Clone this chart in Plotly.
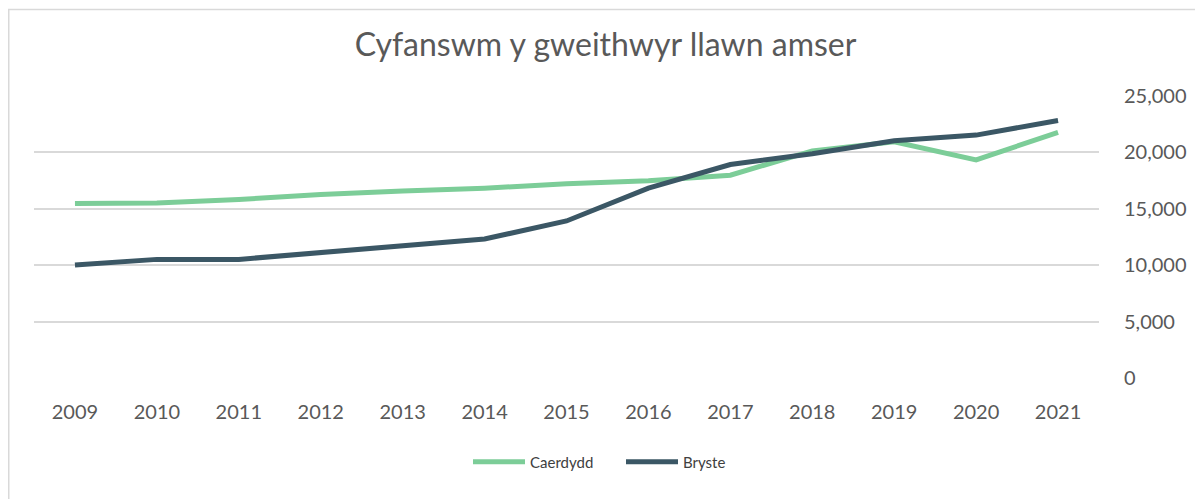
import plotly.graph_objects as go

years = ["2009", "2010", "2011", "2012", "2013", "2014", "2015",
         "2016", "2017", "2018", "2019", "2020", "2021"]
caerdydd = [15450, 15500, 15800, 16250, 16550, 16800, 17200,
            17450, 17950, 20100, 20900, 19300, 21750]
bryste = [10000, 10500, 10500, 11100, 11600, 12300, 13900,
          16800, 18900, 19850, 21000, 21500, 22800]
y_ticks = [0, 5000, 10000, 15000, 20000, 25000]

GREEN = "#7ccd98"
DARK = "#3b5765"
GREY_TXT = "#595959"

# page body adds an 8px offset, so the figure is sized a bit smaller
W, H = 1195, 491

fig = go.Figure()
fig.add_trace(go.Scatter(x=years, y=caerdydd, name="Caerdydd", mode="lines",
                         line=dict(color=GREEN, width=5), line_shape="linear"))
fig.add_trace(go.Scatter(x=years, y=bryste, name="Bryste", mode="lines",
                         line=dict(color=DARK, width=5), line_shape="linear"))

fig.update_layout(
    width=W, height=H,
    margin=dict(l=26, r=104, t=87, b=121, autoexpand=False),
    paper_bgcolor="white", plot_bgcolor="white",
    font=dict(family="Lato", color=GREY_TXT),
    title=dict(text="Cyfanswm y gweithwyr llawn amser", x=0.5, xref="container",
               xanchor="center", y=1 - 37 / H, yanchor="middle",
               font=dict(size=32, color=GREY_TXT)),
    legend=dict(orientation="h", x=460 / W, xref="container", xanchor="left",
                y=1 - 454 / H, yref="container", yanchor="middle",
                font=dict(size=15, color="#404040"), itemwidth=52,
                entrywidth=86, entrywidthmode="pixels"),
    showlegend=True,
)
fig.update_xaxes(type="category", showgrid=False, showline=False, zeroline=False,
                 ticks="", ticklabelstandoff=20, tickfont=dict(size=20, color=GREY_TXT),
                 range=[-0.5, 12.5], automargin=False)
fig.update_yaxes(side="right", range=[0, 25050], tickvals=y_ticks, tickformat=",",
                 showgrid=True, gridcolor="#d9d9d9", gridwidth=1.5, zeroline=False,
                 showline=False, ticks="outside", ticklen=20,
                 tickcolor="rgba(0,0,0,0)", automargin=False,
                 tickfont=dict(size=20, color=GREY_TXT))

# outer chart border (only top and left edges fall inside the picture)
fig.add_shape(type="rect", xref="paper", yref="paper",
              x0=(0.75 - 26) / 1065, x1=1.2, y0=-0.5, y1=(370.5 - 0.75) / 284,
              line=dict(color="#d9d9d9", width=1.5), fillcolor="rgba(0,0,0,0)",
              layer="below")

fig.write_html("out.html")
